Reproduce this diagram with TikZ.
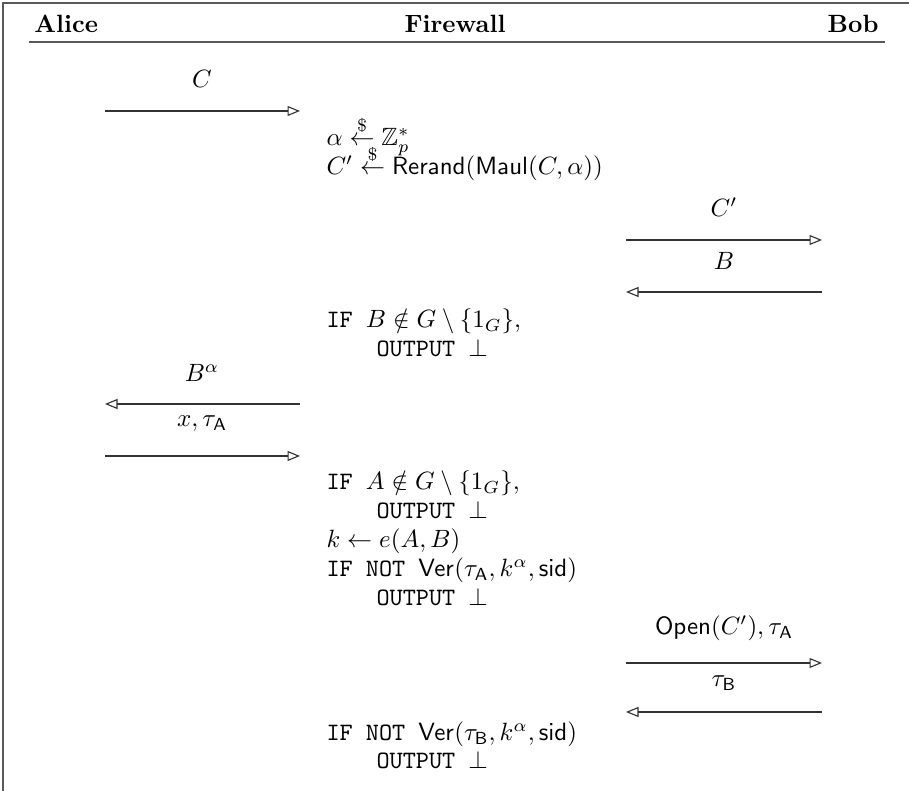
\documentclass[tikz,border=0pt]{standalone}
\usepackage{amsmath,amssymb}
\usetikzlibrary{arrows.meta}
\newcommand{\rsample}{\stackrel{\$}{\leftarrow}}
\newcommand{\tA}{\tau_{\mathsf{A}}}
\newcommand{\tB}{\tau_{\mathsf{B}}}
\newcommand{\ind}{\hspace*{20pt}}
\begin{document}
\begin{tikzpicture}[x=0.4pt,y=-0.4pt,
  frame/.style={draw=black!65,line width=0.7pt},
  msg/.style={draw=black!80,line width=0.45pt,-{Triangle[open,length=5pt,width=4pt]}},
  lbl/.style={anchor=base,inner sep=0pt},
  code/.style={anchor=base west,inner sep=0pt},
  head/.style={anchor=base,inner sep=0pt,font=\bfseries}]
\useasboundingbox (0,0) rectangle (909,791);

% frame and header rule
\draw[frame] (909,3) -- (3,3) -- (3,791);
\draw[frame] (29,42) -- (885,42);

% parties
\node[head,anchor=base west] (alice) at (34,33) {Alice};
\node[head] (fw) at (455,33) {Firewall};
\node[head,anchor=base east] (bob) at (879,33) {Bob};

% message end points
\coordinate (a1) at (105,111); \coordinate (f1) at (300,111);
\coordinate (f2) at (626,240); \coordinate (b2) at (822,240);
\coordinate (b3) at (822,292); \coordinate (f3) at (626,292);
\coordinate (f4) at (300,404); \coordinate (a4) at (105,404);
\coordinate (a5) at (105,456); \coordinate (f5) at (300,456);
\coordinate (f6) at (626,663); \coordinate (b6) at (822,663);
\coordinate (b7) at (822,712); \coordinate (f7) at (626,712);

% messages
\draw[msg] (a1) -- (f1);
\node[lbl] (m1) at (202,88) {$C$};
\draw[msg] (f2) -- (b2);
\node[lbl] (m2) at (724,217) {$C'$};
\draw[msg] (b3) -- (f3);
\node[lbl] (m3) at (724,270) {$B$};
\draw[msg] (f4) -- (a4);
\node[lbl] (m4) at (202,382) {$B^{\alpha}$};
\draw[msg] (a5) -- (f5);
\node[lbl] (m5) at (202,427) {$x,\tA$};
\draw[msg] (f6) -- (b6);
\node[lbl] (m6) at (724,635) {$\mathsf{Open}(C'),\tA$};
\draw[msg] (b7) -- (f7);
\node[lbl] (m7) at (724,687) {$\tB$};

% firewall computations
\node[code] (c1) at (326,146) {$\alpha\rsample\mathbb{Z}_p^*$};
\node[code] (c2) at (326,175) {$C'\rsample\mathsf{Rerand}(\mathsf{Maul}(C,\alpha))$};
\node[code] (c3) at (326,328) {\texttt{IF }$B\notin G\setminus\{1_G\}$,};
\node[code] (c4) at (326,357) {\ind\texttt{OUTPUT }$\bot$};
\node[code] (c5) at (326,490) {\texttt{IF }$A\notin G\setminus\{1_G\}$,};
\node[code] (c6) at (326,519) {\ind\texttt{OUTPUT }$\bot$};
\node[code] (c7) at (326,548) {$k\leftarrow e(A,B)$};
\node[code] (c8) at (326,577) {\texttt{IF NOT }$\mathsf{Ver}(\tA,k^{\alpha},\mathsf{sid})$};
\node[code] (c9) at (326,606) {\ind\texttt{OUTPUT }$\bot$};
\node[code] (c10) at (326,741) {\texttt{IF NOT }$\mathsf{Ver}(\tB,k^{\alpha},\mathsf{sid})$};
\node[code] (c11) at (326,769) {\ind\texttt{OUTPUT }$\bot$};
\end{tikzpicture}
\end{document}
